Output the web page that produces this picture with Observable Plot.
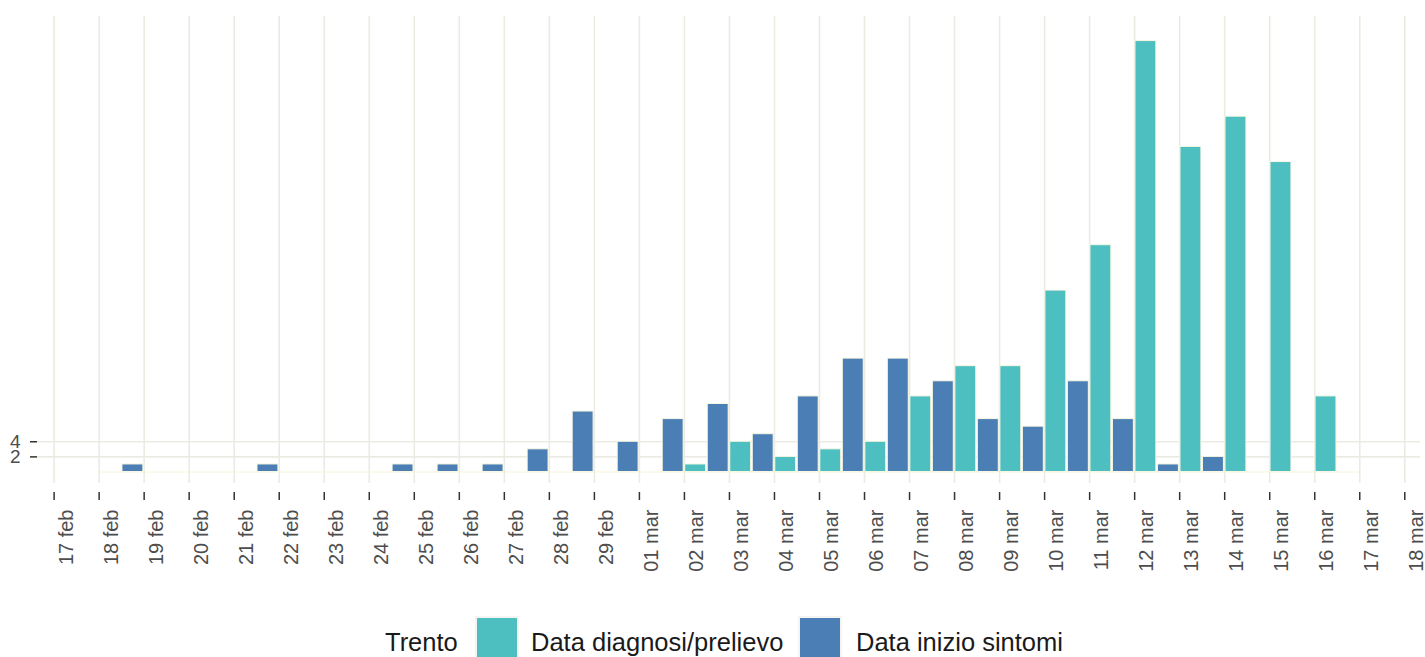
<!DOCTYPE html>
<html>
<head>
<meta charset="utf-8">
<script src="https://cdn.jsdelivr.net/npm/d3@7"></script>
<script src="https://cdn.jsdelivr.net/npm/@observablehq/plot@0.6"></script>
<style>
  html, body { margin: 0; padding: 0; background: #fff; overflow: hidden; }
  body { width: 1425px; height: 657px; position: relative; font-family: "Liberation Sans", Arial, sans-serif; }
  #chart { position: absolute; left: 0; top: 0; }
  .lg { position: absolute; font-size: 25.5px; line-height: 25px; color: #1a1a1a; white-space: nowrap; }
  .key { position: absolute; width: 44px; height: 44px; background: #f4f4f2; }
  .key span { position: absolute; left: 2px; top: 2px; width: 40px; height: 40px; }
</style>
</head>
<body>
<div id="chart"></div>
<div class="lg" style="left:385px;top:630px">Trento</div>
<div class="key" id="k0" style="left:475px;top:616px"><span></span></div>
<div class="lg" style="left:531px;top:630px">Data diagnosi/prelievo</div>
<div class="key" id="k1" style="left:798px;top:616px"><span></span></div>
<div class="lg" style="left:856px;top:630px">Data inizio sintomi</div>
<script>
// ---- data ----
const tickDates = ["2020-02-17","2020-02-18","2020-02-19","2020-02-20","2020-02-21","2020-02-22","2020-02-23","2020-02-24","2020-02-25","2020-02-26","2020-02-27","2020-02-28","2020-02-29","2020-03-01","2020-03-02","2020-03-03","2020-03-04","2020-03-05","2020-03-06","2020-03-07","2020-03-08","2020-03-09","2020-03-10","2020-03-11","2020-03-12","2020-03-13","2020-03-14","2020-03-15","2020-03-16","2020-03-17","2020-03-18"];
const tickLabels = ["17 feb","18 feb","19 feb","20 feb","21 feb","22 feb","23 feb","24 feb","25 feb","26 feb","27 feb","28 feb","29 feb","01 mar","02 mar","03 mar","04 mar","05 mar","06 mar","07 mar","08 mar","09 mar","10 mar","11 mar","12 mar","13 mar","14 mar","15 mar","16 mar","17 mar","18 mar"];
const barDates = ["2020-02-18","2020-02-19","2020-02-20","2020-02-21","2020-02-22","2020-02-23","2020-02-24","2020-02-25","2020-02-26","2020-02-27","2020-02-28","2020-02-29","2020-03-01","2020-03-02","2020-03-03","2020-03-04","2020-03-05","2020-03-06","2020-03-07","2020-03-08","2020-03-09","2020-03-10","2020-03-11","2020-03-12","2020-03-13","2020-03-14","2020-03-15","2020-03-16"];
const diagnosi = [0,0,0,0,0,0,0,0,0,0,0,0,0,1,4,2,3,4,10,14,14,24,30,57,43,47,41,10];
const sintomi  = [1,0,0,1,0,0,1,1,1,3,8,4,7,9,5,10,15,15,12,7,6,12,7,1,2,0,0,0];
const seriesNames = ["Data diagnosi/prelievo", "Data inizio sintomi"];
const seriesColors = ["#4ebfc1", "#4a7eb4"];
const yTicks = [2, 4];

// ---- build ----
const DAY = 864e5;
const parse = d3.utcParse("%Y-%m-%d");
const ticks = tickDates.map(parse);
const labelMap = new Map(ticks.map((t, i) => [+t, tickLabels[i]]));
const rows = [];
barDates.forEach((d, i) => {
  const t = parse(d);
  rows.push({series: seriesNames[0], value: diagnosi[i], x1: t, x2: new Date(+t + DAY / 2)});
  rows.push({series: seriesNames[1], value: sintomi[i], x1: new Date(+t + DAY / 2), x2: new Date(+t + DAY)});
});
const xDomain = [new Date(+ticks[0] - 0.369 * DAY), new Date(+ticks[ticks.length - 1] + 0.349 * DAY)];
const yMin = -2.71, yMax = 60.25, gridBottom = -1.52;
const gridColor = "#ecebe3";
const baseStart = parse(barDates[0]);
const baseEnd = new Date(+parse(barDates[barDates.length - 1]) + DAY);

const chart = Plot.plot({
  width: 1425,
  height: 612,
  marginLeft: 37,
  marginRight: 5,
  marginTop: 16,
  marginBottom: 120,
  x: {type: "utc", domain: xDomain},
  y: {domain: [yMin, yMax]},
  color: {domain: seriesNames, range: seriesColors},
  style: {fontFamily: "'Liberation Sans', Arial, sans-serif", background: "#fff"},
  marks: [
    Plot.ruleX(ticks, {x: d => d, y1: gridBottom, y2: yMax, stroke: gridColor, strokeWidth: 1.6}),
    Plot.ruleY(yTicks, {y: d => d, stroke: gridColor, strokeWidth: 1.6}),
    Plot.ruleY([0], {x1: baseStart, x2: baseEnd, stroke: "#f6f4d6", strokeWidth: 1}),
    Plot.rectY(rows, {x1: "x1", x2: "x2", y: "value", fill: "series", stroke: "#f8f7e2", strokeWidth: 1, insetLeft: 0.8, insetRight: 0.8}),
    Plot.axisX(ticks, {tickSize: 8, tickFormat: () => "", stroke: "#333", strokeWidth: 1.5, label: null}),
    Plot.text(ticks, {x: d => d, frameAnchor: "bottom", dy: 17, dx: 12, rotate: -90, textAnchor: "end", lineAnchor: "middle", text: d => labelMap.get(+d), fontSize: 20, fill: "#4d4d4d"}),
    Plot.axisY(yTicks, {tickSize: 7, tickFormat: () => "", stroke: "#333", strokeWidth: 1.5, label: null}),
    Plot.axisY(yTicks, {tickSize: 0, tickPadding: 17, fontSize: 19, fill: "#4d4d4d", label: null})
  ]
});
document.getElementById("chart").appendChild(chart);
document.querySelector("#k0 span").style.background = seriesColors[0];
document.querySelector("#k1 span").style.background = seriesColors[1];
</script>
</body>
</html>
